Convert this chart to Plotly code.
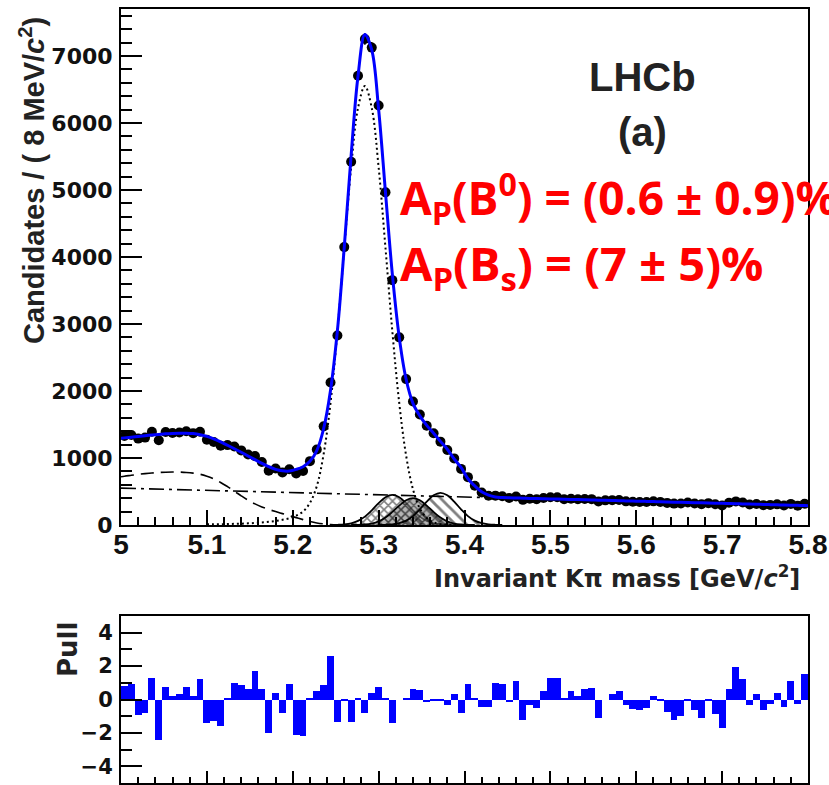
import numpy as np
import plotly.graph_objects as go

# ---- Kpi invariant-mass spectrum, 8 MeV/c^2 bins between 5.0 and 5.8 GeV/c^2 ----
mass = np.round(5.004 + 0.008 * np.arange(100), 3)          # bin centres

candidates = [
    1329, 1343, 1289, 1304, 1391, 1264, 1388, 1373, 1381, 1398,
    1371, 1392, 1271, 1238, 1184, 1192, 1172, 1113, 1051, 1028,
    940, 811, 842, 785, 831, 769, 805, 953, 1127, 1472,
    2127, 2827, 4147, 5420, 6704, 7252, 7124, 6259, 4964, 3654,
    2800, 2177, 1843, 1650, 1480, 1368, 1244, 1118, 994, 837,
    714, 585, 485, 436, 438, 428, 403, 425, 375, 391,
    385, 402, 415, 413, 385, 391, 383, 388, 386, 350,
    368, 371, 373, 353, 347, 343, 343, 353, 345, 330,
    319, 321, 335, 321, 311, 326, 310, 292, 332, 352,
    337, 306, 314, 296, 300, 308, 291, 315, 289, 317,
]

pull = [
    0.8, 0.9, -0.9, -0.8, 1.3, -2.4, 0.75, 0.2, 0.3, 0.75,
    0.2, 1.2, -1.4, -1.3, -1.6, 0.05, 1.0, 0.85, 0.65, 1.7,
    0.65, -2.0, 0.4, -0.8, 0.9, -2.1, -2.2, 0.1, 0.5, 0.85,
    2.6, -1.35, -0.05, -1.35, 0.05, -0.8, 0.4, 0.75, 0.05, -1.4,
    0.0, 0.05, 0.65, 0.55, -0.15, -0.05, -0.1, -0.35, 0.3, -0.8,
    0.9, 0.1, -0.45, -0.45, 1.0, 0.9, -0.15, 1.1, -1.25, -0.3,
    -0.5, 0.5, 1.3, 1.3, 0.05, 0.5, 0.2, 0.6, 0.7, -1.1,
    0.0, 0.3, 0.5, -0.35, -0.55, -0.65, -0.5, 0.2, -0.1, -0.75,
    -1.2, -1.0, -0.05, -0.65, -1.1, -0.1, -0.85, -1.7, 0.65, 1.95,
    1.25, -0.35, 0.3, -0.6, -0.25, 0.4, -0.45, 1.1, -0.25, 1.5,
]

# fit curves are sampled at the bin centres plus both range ends
fit_mass = np.concatenate([[5.0], mass, [5.8]])

fit_total = [1295,
    1300, 1310, 1322, 1333, 1343, 1352, 1360, 1366, 1370, 1370,
    1364, 1348, 1322, 1285, 1240, 1190, 1138, 1085, 1030, 975,
    920, 870, 830, 808, 805, 830, 870, 950, 1110, 1440,
    2010, 2900, 4150, 5520, 6700, 7320, 7090, 6200, 4960, 3740,
    2800, 2175, 1815, 1628, 1486, 1370, 1248, 1130, 985, 860,
    690, 583, 495, 445, 418, 410, 406, 403, 400, 397,
    395, 392, 389, 387, 384, 381, 379, 376, 373, 371,
    368, 365, 363, 360, 357, 355, 352, 349, 347, 344,
    341, 339, 336, 333, 331, 328, 325, 323, 320, 317,
    315, 312, 309, 307, 304, 301, 299, 296, 293, 291,
    289]

# partially reconstructed background (dashed), on fit_mass[:34]
partial_reco = [720,
    728, 742, 756, 767, 776, 783, 788, 790, 789, 784,
    774, 757, 728, 688, 635, 572, 505, 435, 370, 315,
    270, 232, 200, 170, 140, 110, 80, 52, 30, 16,
    7, 2, 0]

# B0 -> K pi signal (dotted), on mass[12:50]
b0_signal = [10, 11, 12, 14, 17, 20, 25, 30, 38, 48,
             60, 78, 100, 140, 200, 330, 580, 1060,
             1821, 2887, 4132, 5337, 6223, 6550,
             6223, 5337, 4132, 2887, 1821, 1037, 533, 247, 104, 39, 13, 4, 1, 0]

# combinatorial background (dash-dot)
comb_mass = [5.0, 5.1, 5.2, 5.3, 5.4, 5.5, 5.6, 5.7, 5.8]
comb_bkg = [550, 517, 484, 451, 418, 385, 352, 318, 285]

# cross-feed peaks (hatched), on mass[30:49], mass[33:52], mass[37:56]
peak_pipi = [0, 3, 9, 25, 61, 125, 219, 327, 415, 450, 415, 327, 219, 125, 61, 25, 9, 3, 0]
peak_kk = [0, 2, 8, 22, 54, 111, 195, 290, 369, 400, 369, 290, 195, 111, 54, 22, 8, 2, 0]
peak_bs = [0, 3, 10, 27, 65, 133, 234, 348, 443, 480, 443, 348, 234, 133, 65, 27, 10, 3, 0]

x_ticks = [5.0, 5.1, 5.2, 5.3, 5.4, 5.5, 5.6, 5.7, 5.8]
x_ticktext = ["5", "5.1", "5.2", "5.3", "5.4", "5.5", "5.6", "5.7", "5.8"]

# ---- page geometry ----
W, H = 829, 785
ML, MR, MT, MB = 121, 21, 9, 2
PW, PH = W - ML - MR, H - MT - MB


def fx(p):
    return (p - ML) / PW


def fy(p):
    return (H - MB - p) / PH


main_dom = [fy(525), 1.0]
pull_dom = [0.0, fy(616)]

fig = go.Figure()

hatch_line = dict(color="black", width=1.8, shape="spline")
fig.add_trace(go.Scatter(
    x=mass[30:49], y=peak_pipi, mode="lines", line=hatch_line,
    fill="tozeroy", fillcolor="rgba(0,0,0,0)",
    fillpattern=dict(shape="x", fgcolor="black", bgcolor="rgba(255,255,255,0)",
                     size=6, solidity=0.45)))
fig.add_trace(go.Scatter(
    x=mass[33:52], y=peak_kk, mode="lines", line=hatch_line,
    fill="tozeroy", fillcolor="rgba(0,0,0,0)",
    fillpattern=dict(shape="x", fgcolor="black", bgcolor="rgba(130,130,130,0.6)",
                     size=6, solidity=0.4)))
fig.add_trace(go.Scatter(
    x=mass[37:56], y=peak_bs, mode="lines", line=hatch_line,
    fill="tozeroy", fillcolor="rgba(0,0,0,0)",
    fillpattern=dict(shape="\\", fgcolor="black", bgcolor="rgba(255,255,255,0)",
                     size=8, solidity=0.35)))

fig.add_trace(go.Scatter(x=comb_mass, y=comb_bkg, mode="lines",
                         line=dict(color="black", width=1.6, dash="15px,5px,3px,5px")))
fig.add_trace(go.Scatter(x=fit_mass[:34], y=partial_reco, mode="lines",
                         line=dict(color="black", width=1.6, dash="13px,7px", shape="spline")))
fig.add_trace(go.Scatter(x=mass[12:50], y=b0_signal, mode="lines",
                         line=dict(color="black", width=2, dash="2px,3px", shape="spline")))

fig.add_trace(go.Scatter(
    x=mass, y=candidates, mode="markers",
    marker=dict(color="black", size=10),
    error_y=dict(type="sqrt", color="black", thickness=1.5, width=0),
    error_x=dict(type="constant", value=0.004, color="black", thickness=1.5, width=0)))

fig.add_trace(go.Scatter(x=fit_mass, y=fit_total, mode="lines",
                         line=dict(color="#0000ff", width=3, shape="spline")))

fig.add_trace(go.Bar(x=mass, y=pull, width=0.008, marker=dict(color="#0000ff", line=dict(width=0)),
                     xaxis="x2", yaxis="y2"))

frame = dict(showline=True, linecolor="black", linewidth=2, mirror=True,
             showgrid=False, zeroline=False, tickcolor="black", automargin=False)

fig.update_layout(
    width=W, height=H, margin=dict(l=ML, r=MR, t=MT, b=MB, autoexpand=False),
    paper_bgcolor="white", plot_bgcolor="white", showlegend=False, bargap=0,
    xaxis=dict(**frame, domain=[0, 1], anchor="y", range=[5.0, 5.8],
               tickmode="array", tickvals=x_ticks, ticktext=x_ticktext,
               ticks="inside", ticklen=15, tickwidth=2, ticklabelstandoff=-7,
               tickfont=dict(family="Liberation Sans", size=28, color="#111", weight="bold"),
               minor=dict(ticks="inside", ticklen=8, tickwidth=1.5, tickcolor="black",
                          tick0=5.0, dtick=0.02)),
    yaxis=dict(**frame, domain=main_dom, anchor="x", range=[0, 7700],
               tick0=0, dtick=1000, ticks="inside", ticklen=21, tickwidth=2,
               ticklabelstandoff=2,
               tickfont=dict(family="DejaVu Sans", size=22, color="#111", weight="bold"),
               minor=dict(ticks="inside", ticklen=11, tickwidth=1.5, tickcolor="black",
                          tick0=0, dtick=200)),
    xaxis2=dict(**frame, domain=[0, 1], anchor="y2", range=[5.0, 5.8],
                showticklabels=False, tickmode="array", tickvals=x_ticks,
                ticks="inside", ticklen=12, tickwidth=2,
                minor=dict(ticks="inside", ticklen=6, tickwidth=1.5, tickcolor="black",
                           tick0=5.0, dtick=0.02)),
    yaxis2=dict(**frame, domain=pull_dom, anchor="x2", range=[-5, 5],
                tickmode="array", tickvals=[-4, -2, 0, 2, 4],
                ticks="inside", ticklen=21, tickwidth=2, ticklabelstandoff=2,
                tickfont=dict(family="DejaVu Sans", size=21, color="#111", weight="bold"),
                minor=dict(ticks="inside", ticklen=11, tickwidth=1.5, tickcolor="black",
                           tick0=-5, dtick=1)),
)

ann = []
ann.append(dict(text="<b>Candidates / ( 8 MeV/<i>c</i><sup>2</sup>)</b>", textangle=-90,
                x=fx(32), y=fy(181), xref="paper", yref="paper", showarrow=False,
                xanchor="center", yanchor="middle",
                font=dict(family="Liberation Sans", size=29, color="#222")))
ann.append(dict(text="<b>Invariant K\u03c0 mass [GeV/<i>c</i><sup>2</sup>]</b>",
                x=fx(802), y=fy(577), xref="paper", yref="paper", showarrow=False,
                xanchor="right", yanchor="middle",
                font=dict(family="DejaVu Sans", size=24, color="#222")))
ann.append(dict(text="<b>Pull</b>", textangle=-90,
                x=fx(68), y=fy(650), xref="paper", yref="paper", showarrow=False,
                xanchor="center", yanchor="middle",
                font=dict(family="DejaVu Sans", size=26, color="#222")))
ann.append(dict(text="<b>LHCb</b>", x=fx(642), y=fy(77), xref="paper", yref="paper",
                showarrow=False, xanchor="center", yanchor="middle",
                font=dict(family="Liberation Sans", size=40, color="#222")))
ann.append(dict(text="<b>(a)</b>", x=fx(642), y=fy(132), xref="paper", yref="paper",
                showarrow=False, xanchor="center", yanchor="middle",
                font=dict(family="Liberation Sans", size=40, color="#222")))
ann.append(dict(text="<b>A<sub>P</sub>(B<sup>0</sup>) = (0.6 \u00b1 0.9)%</b>",
                x=fx(398), y=fy(198), xref="paper", yref="paper", showarrow=False,
                xanchor="left", yanchor="middle",
                font=dict(family="Open Sans", size=46, color="#ff0000")))
ann.append(dict(text="<b>A<sub>P</sub>(B<sub>s</sub>) = (7 \u00b1 5)%</b>",
                x=fx(398), y=fy(266), xref="paper", yref="paper", showarrow=False,
                xanchor="left", yanchor="middle",
                font=dict(family="Open Sans", size=47, color="#ff0000")))
fig.update_layout(annotations=ann)

fig.write_html("out.html")
